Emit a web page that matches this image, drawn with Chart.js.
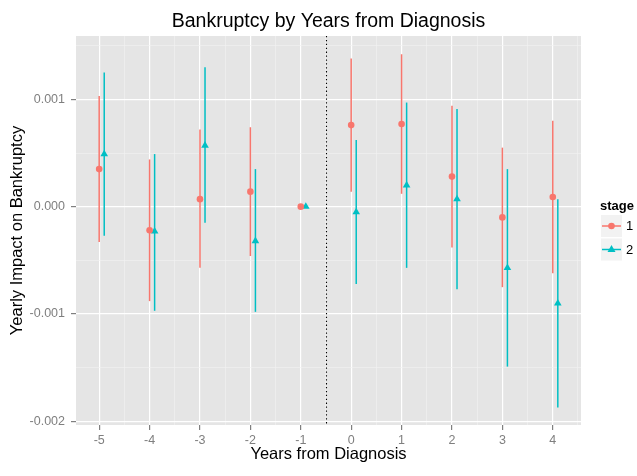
<!DOCTYPE html>
<html>
<head>
<meta charset="utf-8">
<script src="https://cdn.jsdelivr.net/npm/chart.js@4.4.1/dist/chart.umd.min.js"></script>
<style>
  body { margin: 0; background: #fff; }
</style>
</head>
<body>
<canvas id="plot" width="637" height="476"></canvas>
<script>
// years from diagnosis (x axis)
const years = [-5, -4, -3, -2, -1, 0, 1, 2, 3, 4];

// stage 1 estimates and intervals
const stage1Est = [0.00035, -0.00022, 0.00007, 0.00014, 0, 0.00076, 0.00077, 0.00028, -0.00010, 0.00009];
const stage1Lo  = [-0.00033, -0.00088, -0.00057, -0.00046, null, 0.00014, 0.00012, -0.00038, -0.00075, -0.00062];
const stage1Hi  = [0.00103, 0.00044, 0.00072, 0.00074, null, 0.00138, 0.00142, 0.00094, 0.00055, 0.00080];

// stage 2 estimates and intervals
const stage2Est = [0.00049, -0.00023, 0.00057, -0.00032, 0, -0.00005, 0.00020, 0.00007, -0.00057, -0.00090];
const stage2Lo  = [-0.00027, -0.00097, -0.00015, -0.00098, null, -0.00072, -0.00057, -0.00077, -0.00149, -0.00187];
const stage2Hi  = [0.00125, 0.00049, 0.00130, 0.00035, null, 0.00062, 0.00097, 0.00091, 0.00035, 0.00007];

const stageLabels = ['1', '2'];
const yTickValues = [-0.002, -0.0015, -0.001, -0.0005, 0, 0.0005, 0.001, 0.0015];
const xTickValues = [-5, -4.5, -4, -3.5, -3, -2.5, -2, -1.5, -1, -0.5, 0, 0.5, 1, 1.5, 2, 2.5, 3, 3.5, 4, 4.5];
const diagnosisLine = -0.5;

const red = '#F8766D';
const teal = '#00BFC4';
const dodge = 0.1;
const FONT = '"Liberation Sans", Arial, sans-serif';

const isMajorY = v => Math.abs(v * 1000 - Math.round(v * 1000)) < 1e-9;
const isMajorX = v => Math.abs(v - Math.round(v)) < 1e-9;

const pts1 = years.map((x, i) => ({x: x, y: stage1Est[i]}));
const pts2 = years.map((x, i) => ({x: x + dodge, y: stage2Est[i]}));

// gray panel, dotted line, error bars, legend
const panel = {
    id: 'panel',
    beforeDraw(chart) {
        const {ctx, chartArea: a} = chart;
        ctx.save();
        ctx.fillStyle = '#E5E5E5';
        ctx.fillRect(a.left, a.top, a.right - a.left, a.bottom - a.top);
        ctx.restore();
    },
    beforeDatasetsDraw(chart) {
        const {ctx, chartArea: a, scales: {x, y}} = chart;
        ctx.save();
        const dx = Math.round(x.getPixelForValue(diagnosisLine)) + 0.5;
        ctx.strokeStyle = '#000';
        ctx.lineWidth = 1.1;
        ctx.setLineDash([1.3, 2.6]);
        ctx.beginPath();
        ctx.moveTo(dx, a.top);
        ctx.lineTo(dx, a.bottom);
        ctx.stroke();
        ctx.setLineDash([]);
        const bars = [[stage1Lo, stage1Hi, 0, red], [stage2Lo, stage2Hi, dodge, teal]];
        bars.forEach(([lo, hi, off, col]) => {
            ctx.strokeStyle = col;
            ctx.lineWidth = 1.5;
            years.forEach((yr, i) => {
                if (lo[i] === null) return;
                const px = x.getPixelForValue(yr + off);
                ctx.beginPath();
                ctx.moveTo(px, y.getPixelForValue(lo[i]));
                ctx.lineTo(px, y.getPixelForValue(hi[i]));
                ctx.stroke();
            });
        });
        ctx.restore();
    },
    afterDraw(chart) {
        const ctx = chart.ctx;
        ctx.save();
        ctx.fillStyle = '#000';
        ctx.font = 'bold 13px ' + FONT;
        ctx.textBaseline = 'middle';
        ctx.textAlign = 'left';
        ctx.fillText('stage', 600, 206);
        const keys = [[215, red, 'circle'], [238.5, teal, 'triangle']];
        keys.forEach(([top, col, shape], k) => {
            ctx.fillStyle = '#F2F2F2';
            ctx.fillRect(601, top, 21, 22);
            const cy = top + 11, cx = 611.5;
            ctx.strokeStyle = col;
            ctx.lineWidth = 1.5;
            ctx.beginPath();
            ctx.moveTo(602, cy);
            ctx.lineTo(621, cy);
            ctx.stroke();
            ctx.fillStyle = col;
            ctx.beginPath();
            if (shape === 'circle') {
                ctx.arc(cx, cy, 3.3, 0, Math.PI * 2);
            } else {
                ctx.moveTo(cx, cy - 4.4);
                ctx.lineTo(cx + 4, cy + 2.5);
                ctx.lineTo(cx - 4, cy + 2.5);
                ctx.closePath();
            }
            ctx.fill();
            ctx.fillStyle = '#000';
            ctx.font = '13px ' + FONT;
            ctx.fillText(stageLabels[k], 626, cy + 0.5);
        });
        ctx.restore();
    }
};

const ctx = document.getElementById('plot').getContext('2d');
const myChart = new Chart(ctx, {
    type: 'scatter',
    data: {
        datasets: [{
            label: stageLabels[0],
            data: pts1,
            backgroundColor: red,
            borderColor: red,
            pointStyle: 'circle',
            pointRadius: 3.3,
            borderWidth: 0
        }, {
            label: stageLabels[1],
            data: pts2,
            backgroundColor: teal,
            borderColor: teal,
            pointStyle: 'triangle',
            pointRadius: 4.4,
            borderWidth: 0
        }]
    },
    options: {
        responsive: false,
        animation: false,
        layout: {padding: {left: 0, right: 56, top: 0, bottom: 0}},
        plugins: {
            legend: {display: false},
            tooltip: {enabled: false},
            title: {
                display: true,
                text: 'Bankruptcy by Years from Diagnosis',
                fullSize: false,
                color: '#000',
                font: {family: FONT, size: 19.5, weight: 'normal'},
                padding: {top: 10, bottom: 2.6}
            }
        },
        scales: {
            x: {
                type: 'linear',
                min: -5.46,
                max: 4.56,
                afterBuildTicks: s => { s.ticks = xTickValues.map(v => ({value: v})); },
                afterFit: s => { s.height = 51; },
                border: {display: false},
                grid: {
                    color: c => isMajorX(c.tick.value) ? '#FFFFFF' : '#F2F2F2',
                    lineWidth: c => isMajorX(c.tick.value) ? 1.2 : 0.6,
                    tickColor: c => isMajorX(c.tick.value) ? '#7F7F7F' : 'rgba(0,0,0,0)',
                    tickLength: 5
                },
                ticks: {
                    autoSkip: false,
                    maxRotation: 0,
                    padding: 3,
                    color: '#7F7F7F',
                    font: {family: FONT, size: 12.5},
                    callback: v => isMajorX(v) ? String(Math.round(v)) : ''
                },
                title: {
                    display: true,
                    text: 'Years from Diagnosis',
                    color: '#000',
                    font: {family: FONT, size: 16.5},
                    padding: {top: 11.5, bottom: 11.5}
                }
            },
            y: {
                type: 'linear',
                min: -0.002034,
                max: 0.00159,
                afterBuildTicks: s => { s.ticks = yTickValues.map(v => ({value: v})); },
                afterFit: s => { s.width = 76; },
                border: {display: false},
                grid: {
                    color: c => isMajorY(c.tick.value) ? '#FFFFFF' : '#F2F2F2',
                    lineWidth: c => isMajorY(c.tick.value) ? 1.2 : 0.6,
                    tickColor: c => isMajorY(c.tick.value) ? '#7F7F7F' : 'rgba(0,0,0,0)',
                    tickLength: 5
                },
                ticks: {
                    autoSkip: false,
                    padding: 6,
                    color: '#7F7F7F',
                    font: {family: FONT, size: 12.5},
                    callback: v => isMajorY(v) ? v.toFixed(3) : ''
                },
                title: {
                    display: true,
                    text: 'Yearly Impact on Bankruptcy',
                    color: '#000',
                    font: {family: FONT, size: 16.5},
                    padding: {top: 7.1, bottom: 0}
                }
            }
        }
    },
    plugins: [panel]
});
</script>
</body>
</html>
